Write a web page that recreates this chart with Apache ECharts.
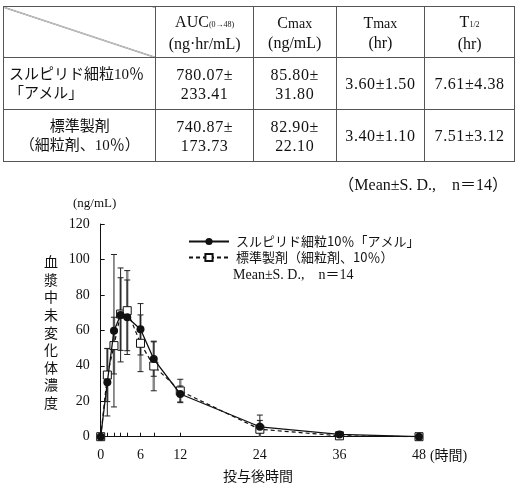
<!DOCTYPE html>
<html>
<head>
<meta charset="utf-8">
<script src="https://cdn.jsdelivr.net/npm/echarts@6/dist/echarts.min.js"></script>
<style>
html, body { margin: 0; padding: 0; background: #fff; }
#wrap { position: relative; width: 515px; height: 490px; }
#chart { position: absolute; left: 0; top: 0; width: 515px; height: 490px; }
#pk {
    position: absolute; left: 3px; top: 6px;
    border-collapse: collapse; table-layout: fixed;
    font-family: 'Liberation Serif', 'Noto Sans CJK JP', serif;
    font-size: 16px; color: #111;
}
#pk td { border: 1px solid #555; text-align: center; padding: 0; line-height: 19px; }
#pk td.num { letter-spacing: 0.6px; }
#pk td.name { font-size: 15px; }
#pk td.left { text-align: left; padding-left: 5px; }
#pk td.diag {
    background: linear-gradient(to top right, transparent calc(50% - 0.7px), #444 50%, transparent calc(50% + 0.7px));
}
#pk .sub { font-size: 8px; }
#pk .small { font-size: 14px; }
#note {
    position: absolute; right: 7px; top: 171px;
    font-family: 'Liberation Serif', 'Noto Sans CJK JP', serif;
    font-size: 16px; color: #111;
}
</style>
</head>
<body>
<div id="wrap">
    <div id="chart"></div>
    <table id="pk"></table>
    <div id="note">（Mean±S. D.,　n＝14）</div>
</div>
<script>
// table values
const colWidths = [153, 97, 82, 88, 89];
const rowHeights = [51, 52, 52];
const headers = [
    'AUC<span class="sub">(0→48)</span><br>(ng·hr/mL)',
    'C<span class="small">max</span><br>(ng/mL)',
    'T<span class="small">max</span><br>(hr)',
    'T<span class="sub">1/2</span><br>(hr)'
];
const rowNames = [['スルピリド細粒10％', '「アメル」'], ['標準製剤', '（細粒剤、10％）']];
const nameAlign = ['left', 'center'];
const aucMean = ['780.07', '740.87'];
const aucSD = ['233.41', '173.73'];
const cmaxMean = ['85.80', '82.90'];
const cmaxSD = ['31.80', '22.10'];
const tmaxMean = ['3.60', '3.40'];
const tmaxSD = ['1.50', '1.10'];
const thalfMean = ['7.61', '7.51'];
const thalfSD = ['4.38', '3.12'];

// plasma concentration (ng/mL)
const times = [0, 1, 2, 3, 4, 6, 8, 12, 24, 36, 48];
const xLabels = [0, 6, 12, 24, 36, 48];
const ameruMean = [0, 30.7, 59.8, 68.7, 67.4, 60.6, 43.8, 24.1, 5.6, 1.3, 0];
const ameruSD = [0, 19, 43, 26.5, 21, 14.5, 9.7, 4.5, 6.6, 1.5, 0];
const stdMean = [0, 34.8, 51.4, 69.2, 71.1, 52.7, 39.9, 25.8, 4.2, 0.5, 0];
const stdSD = [0, 15, 16, 20.5, 22.6, 16, 14, 6.6, 5, 1, 0];

const nameAmeru = 'スルピリド細粒10％「アメル」';
const nameStd = '標準製剤（細粒剤、10％）';

var buildTable = function() {
    let html = '<tr style="height:' + rowHeights[0] + 'px">';
    html += '<td class="diag" style="width:' + colWidths[0] + 'px"></td>';
    for (let i = 0; i < headers.length; ++i) {
        html += '<td style="width:' + colWidths[i + 1] + 'px">' + headers[i] + '</td>';
    }
    html += '</tr>';
    for (let r = 0; r < rowNames.length; ++r) {
        html += '<tr style="height:' + rowHeights[r + 1] + 'px">';
        html += '<td class="name' + (nameAlign[r] == 'left' ? ' left' : '') + '">' + rowNames[r].join('<br>') + '</td>';
        html += '<td class="num">' + aucMean[r] + '±<br>' + aucSD[r] + '</td>';
        html += '<td class="num">' + cmaxMean[r] + '±<br>' + cmaxSD[r] + '</td>';
        html += '<td class="num">' + tmaxMean[r] + '±' + tmaxSD[r] + '</td>';
        html += '<td class="num">' + thalfMean[r] + '±' + thalfSD[r] + '</td>';
        html += '</tr>';
    }
    document.getElementById('pk').innerHTML = html;
};
buildTable();

const serif = "'Liberation Serif', 'Noto Sans CJK JP', serif";
const jp = "'Noto Sans CJK JP', sans-serif";

var points = function(mean) {
    return times.map(function(t, i) { return [t, mean[i]]; });
};
var bars = function(mean, sd) {
    return times.map(function(t, i) { return [t, mean[i] - sd[i], mean[i] + sd[i]]; });
};

var errorBar = function(color, width) {
    return function(params, api) {
        if (api.value(1) == api.value(2)) return;
        var x = api.value(0);
        var lo = api.coord([x, api.value(1)]);
        var hi = api.coord([x, api.value(2)]);
        var c = 3;
        return {
            type: 'group',
            children: [
                { type: 'line', shape: { x1: lo[0], y1: lo[1], x2: hi[0], y2: hi[1] }, style: { stroke: color, lineWidth: width } },
                { type: 'line', shape: { x1: hi[0] - c, y1: hi[1], x2: hi[0] + c, y2: hi[1] }, style: { stroke: '#222', lineWidth: 1 } },
                { type: 'line', shape: { x1: lo[0] - c, y1: lo[1], x2: lo[0] + c, y2: lo[1] }, style: { stroke: '#222', lineWidth: 1 } }
            ]
        };
    };
};

var myChart = echarts.init(document.getElementById('chart'));

var option = {
    animation: false,
    textStyle: { fontFamily: serif, color: '#111' },
    grid: { left: 100.7, right: 96, top: 224, bottom: 53.3 },
    legend: {
        orient: 'vertical',
        left: 188,
        top: 235,
        padding: 0,
        itemWidth: 40,
        itemHeight: 9,
        itemGap: 3,
        data: [nameAmeru, nameStd],
        textStyle: { fontFamily: jp, fontSize: 13, color: '#111', lineHeight: 13, padding: [0, 0, 0, 2] }
    },
    xAxis: {
        type: 'value',
        min: 0,
        max: 48,
        interval: 6,
        name: '(時間)',
        nameLocation: 'end',
        nameGap: 8,
        nameTextStyle: { fontFamily: serif, fontSize: 14, color: '#111', align: 'left', verticalAlign: 'top', padding: [13, 0, 0, 0] },
        axisLine: { lineStyle: { color: '#111', width: 1 } },
        axisTick: { inside: true, length: 4, customValues: times, lineStyle: { color: '#111' } },
        axisLabel: { fontSize: 14, margin: 12, color: '#111', customValues: xLabels },
        splitLine: { show: false }
    },
    yAxis: {
        type: 'value',
        min: 0,
        max: 120,
        interval: 20,
        name: '(ng/mL)',
        nameLocation: 'end',
        nameGap: 14,
        nameTextStyle: { fontFamily: serif, fontSize: 13, color: '#111', padding: [0, 12, 0, 0] },
        axisLine: { show: true, lineStyle: { color: '#111', width: 1 } },
        axisTick: { show: true, inside: true, length: 4, lineStyle: { color: '#111' } },
        axisLabel: { fontSize: 14, margin: 11, color: '#111' },
        splitLine: { show: false }
    },
    graphic: [
        {
            type: 'text', left: 44, top: 253,
            style: { text: '血\n漿\n中\n未\n変\n化\n体\n濃\n度', font: '14px ' + jp, lineHeight: 17.6, fill: '#111' }
        },
        {
            type: 'text', left: 223, top: 469,
            style: { text: '投与後時間', font: '14px ' + jp, fill: '#111' }
        },
        {
            type: 'text', left: 233, top: 268,
            style: { text: 'Mean±S. D.,　n＝14', font: '14px ' + serif, fill: '#111' }
        }
    ],
    series: [
        {
            type: 'custom',
            name: 'sd-std',
            clip: true,
            z: 1,
            renderItem: errorBar('#888', 2.5),
            data: bars(stdMean, stdSD)
        },
        {
            type: 'custom',
            name: 'sd-ameru',
            clip: true,
            z: 2,
            renderItem: errorBar('#222', 1),
            data: bars(ameruMean, ameruSD)
        },
        {
            type: 'line',
            name: nameStd,
            z: 3,
            data: points(stdMean),
            symbol: 'rect',
            symbolSize: 8,
            itemStyle: { color: '#fff', borderColor: '#111', borderWidth: 1 },
            lineStyle: { color: '#111', width: 1.2, type: [4, 3] }
        },
        {
            type: 'line',
            name: nameAmeru,
            z: 4,
            data: points(ameruMean),
            symbol: 'circle',
            symbolSize: 8,
            itemStyle: { color: '#111', borderColor: '#111', borderWidth: 0 },
            lineStyle: { color: '#111', width: 1.3 }
        }
    ]
};

myChart.setOption(option);
</script>
</body>
</html>
